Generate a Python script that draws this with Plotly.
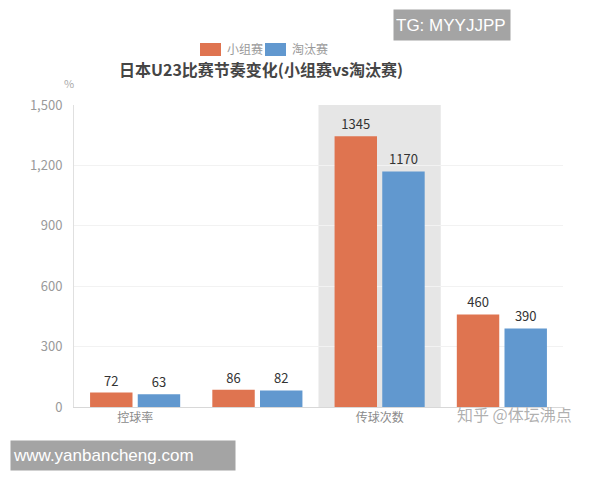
import plotly.graph_objects as go

categories = ['控球率', '传球成功率', '传球次数', '前场传球']
shown_labels = ['控球率', '传球次数']
group_stage = [72, 86, 1345, 460]
knockout = [63, 82, 1170, 390]
series_names = ['小组赛', '淘汰赛']
y_ticks = [0, 300, 600, 900, 1200, 1500]

ORANGE = '#DF7450'
BLUE = '#6198CF'
FONT = 'Noto Sans CJK SC'

fig = go.Figure()

# 小组赛
fig.add_trace(go.Bar(
    x=categories,
    y=group_stage,
    name=series_names[0],
    marker=dict(color=ORANGE, line=dict(width=0)),
    text=[str(v) for v in group_stage],
    textposition='outside',
    textfont=dict(color='#333333', size=13),
    cliponaxis=False
))

# 淘汰赛
fig.add_trace(go.Bar(
    x=categories,
    y=knockout,
    name=series_names[1],
    marker=dict(color=BLUE, line=dict(width=0)),
    text=[str(v) for v in knockout],
    textposition='outside',
    textfont=dict(color='#333333', size=13),
    cliponaxis=False
))

# 鼠标悬停阴影
fig.add_shape(type='rect', xref='x', yref='y', x0=1.5, x1=2.5, y0=0, y1=1500,
              fillcolor='#E6E6E6', line_width=0, layer='below')

fig.update_layout(
    width=600,
    height=480,
    margin=dict(l=74, r=37, t=105, b=73),
    plot_bgcolor='white',
    paper_bgcolor='white',
    font=dict(family=FONT, color='#999999', size=13),
    barmode='group',
    bargap=0.22,
    bargroupgap=0.11,
    showlegend=False,
    xaxis=dict(
        tickmode='array',
        tickvals=shown_labels,
        ticktext=shown_labels,
        showgrid=False,
        showline=True,
        linecolor='#D8D8D8',
        ticks='',
        tickfont=dict(color='#8A8A8A', size=12),
    ),
    yaxis=dict(
        range=[0, 1500],
        tickvals=y_ticks,
        tickformat=',',
        showgrid=True,
        gridcolor='#F2F2F2',
        showline=True,
        linecolor='#E0E0E0',
        zeroline=False,
        ticks='',
        ticklabelstandoff=8,
        tickfont=dict(color='#9A9A9A', size=13),
    ),
)

# 标题
fig.add_annotation(text='<b>日本U23比赛节奏变化(小组赛vs淘汰赛)</b>', xref='paper', yref='paper',
                   x=(261 - 74) / 489, y=(407 - 69) / 302, xanchor='center', yanchor='middle',
                   showarrow=False, font=dict(size=16, color='#454545', family=FONT))

# 图例
legend_items = [(series_names[0], ORANGE, 200), (series_names[1], BLUE, 265)]
for name, color, px0 in legend_items:
    fig.add_shape(type='rect', xref='paper', yref='paper',
                  x0=(px0 - 74) / 489, x1=(px0 + 21 - 74) / 489,
                  y0=(407 - 56) / 302, y1=(407 - 43) / 302,
                  fillcolor=color, line_width=0)
    fig.add_annotation(text=name, xref='paper', yref='paper',
                       x=(px0 + 25 - 74) / 489, y=(407 - 49) / 302,
                       xanchor='left', yanchor='middle', showarrow=False,
                       font=dict(size=12, color='#9A9A9A', family=FONT))

# 单位
fig.add_annotation(text='%', xref='paper', yref='paper', x=(69 - 74) / 489, y=(407 - 83) / 302,
                   xanchor='center', yanchor='middle', showarrow=False,
                   font=dict(size=11, color='#AAAAAA', family=FONT))

# 水印
fig.add_annotation(text='TG: MYYJJPP', xref='paper', yref='paper',
                   x=(393 - 74) / 489, y=(407 - 25) / 302, xanchor='left', yanchor='middle',
                   showarrow=False, bgcolor='#A4A4A4', width=112, height=26, align='left',
                   borderpad=2, font=dict(size=17, color='white', family='Liberation Sans'))
fig.add_annotation(text='www.yanbancheng.com', xref='paper', yref='paper',
                   x=(10 - 74) / 489, y=(407 - 455) / 302, xanchor='left', yanchor='middle',
                   showarrow=False, bgcolor='#A4A4A4', width=220, height=25, align='left',
                   borderpad=2, font=dict(size=17, color='white', family='Liberation Sans'))
fig.add_annotation(text='知乎 @体坛沸点', xref='paper', yref='paper',
                   x=(455 - 74) / 489, y=(407 - 414) / 302, xanchor='left', yanchor='middle',
                   showarrow=False,
                   font=dict(size=16, color='rgba(150,150,150,0.75)', family=FONT))

fig.write_html('out.html', config={'displayModeBar': False},
               post_script="document.body.style.margin='0';")
